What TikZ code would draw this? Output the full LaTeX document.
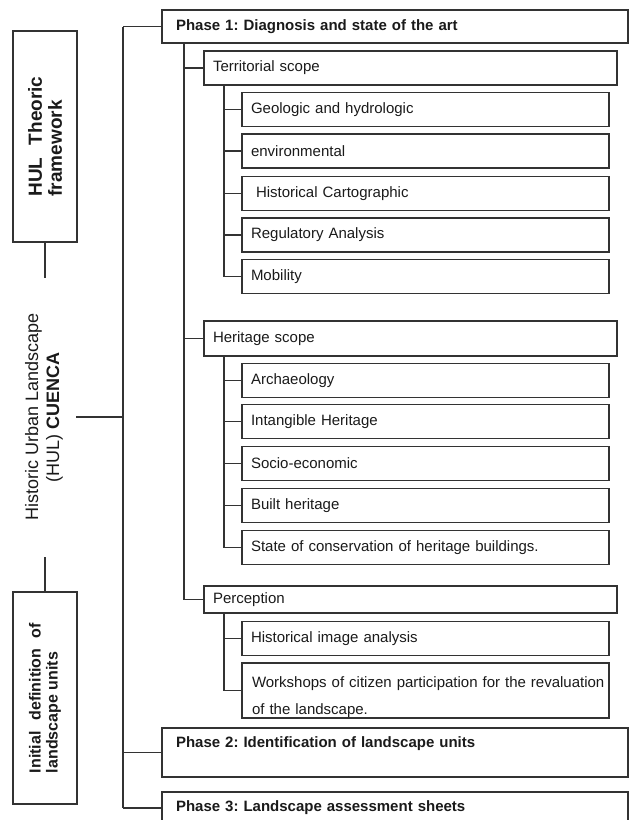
\documentclass[tikz,border=0pt]{standalone}
\usepackage{fontspec}
\setmainfont{Liberation Sans}
\definecolor{ln}{HTML}{333333}
\definecolor{tx}{HTML}{1A1A1A}
\tolerance=9999
\hbadness=10000
\frenchspacing
\begin{document}
\begin{tikzpicture}[x=1pt,y=-1pt,
  box/.style={draw=ln, line width=1.2pt, rectangle, align=left, text=tx,
    font=\fontsize{15}{18}\selectfont, inner ysep=0pt},
  leaf/.style={box, inner xsep=9pt, text width=349pt, minimum height=34pt},
  mid/.style={box, inner xsep=9pt, text width=395pt},
  phase/.style={box, inner xsep=14pt, text width=438pt,
    font=\bfseries\fontsize{15}{18}\selectfont},
  side/.style={draw=ln, line width=1.2pt, rectangle, rotate=90, text=tx,
    minimum height=64pt, align=justify},
  conn/.style={draw=ln, line width=1.1pt}]
\useasboundingbox (0,0) rectangle (630,820);

% left column
\node[side, minimum width=211pt, text width=120pt,
  font=\bfseries\fontsize{19}{20}\selectfont] (hul) at (45,136.5) {HUL Theoric framework};
\node[rotate=90, align=center, text=tx, font=\fontsize{18}{21}\selectfont]
  (hist) at (44,417) {Historic Urban Landscape\\(HUL) \textbf{CUENCA}};
\node[side, minimum width=212pt, text width=150pt,
  font=\bfseries\fontsize{16}{17}\selectfont] (ini) at (45,698) {Initial definition of landscape units\rule{8pt}{0pt}};
\coordinate (hulend) at (45,278);
\coordinate (iniend) at (45,557);
\coordinate (hx) at (76,417);

% boxes
\node[phase, minimum height=33pt] (p1) at (395,26.5) {Phase 1: Diagnosis and state of the art};
\node[mid, minimum height=34pt] (terr) at (410.5,68) {Territorial scope};
\node[leaf] (geo) at (425.5,109.5) {Geologic and hydrologic};
\node[leaf] (env) at (425.5,151) {environmental};
\node[leaf] (hca) at (425.5,193.5) {\hspace*{5pt}Historical Cartographic};
\node[leaf] (reg) at (425.5,235) {Regulatory Analysis};
\node[leaf] (mob) at (425.5,276.5) {Mobility};
\node[mid, minimum height=35pt] (her) at (410.5,338.5) {Heritage scope};
\node[leaf] (arc) at (425.5,380.5) {Archaeology};
\node[leaf] (int) at (425.5,421.5) {Intangible Heritage};
\node[leaf] (soc) at (425.5,463.5) {Socio-economic};
\node[leaf] (blt) at (425.5,505.5) {Built heritage};
\node[leaf] (sta) at (425.5,547.5) {State of conservation of heritage buildings.};
\node[mid, minimum height=27pt] (per) at (410.5,599.5) {Perception};
\node[leaf] (him) at (425.5,638.5) {Historical image analysis};
\node[leaf, minimum height=55pt, inner xsep=10pt, text width=347pt,
  font=\fontsize{15}{27}\selectfont] (wrk) at (425.5,690.5)
  {\rule{0pt}{25pt}\mbox{Workshops of citizen participation for the revaluation}\\of the landscape.};
\node[phase, minimum height=49pt] (p2) at (395,752.5) {Phase 2: Identification of landscape units\\[2pt]\mbox{}};
\node[phase, minimum height=32pt] (p3) at (395,808) {Phase 3: Landscape assessment sheets};

% guide coordinates
\coordinate (trk) at (123,0);
\coordinate (sub) at (184,0);
\coordinate (t1) at (224,0);

% connectors
\draw[conn] (hul.west) -- (hulend);
\draw[conn] (ini.east) -- (iniend);
\draw[conn] (hx) -- (hx -| trk);
\draw[conn] (p1.west -| trk) -- (p3.west -| trk);
\draw[conn] (p1.west -| trk) -- (p1.west);
\draw[conn] (p2.west -| trk) -- (p2.west);
\draw[conn] (p3.west -| trk) -- (p3.west);

\draw[conn] (sub |- p1.south) -- (sub |- per.west) -- (per.west);
\draw[conn] (sub |- terr.west) -- (terr.west);
\draw[conn] (sub |- her.west) -- (her.west);

\draw[conn] (t1 |- terr.south) -- (t1 |- mob.west) -- (mob.west);
\draw[conn] (t1 |- geo.west) -- (geo.west);
\draw[conn] (t1 |- env.west) -- (env.west);
\draw[conn] (t1 |- hca.west) -- (hca.west);
\draw[conn] (t1 |- reg.west) -- (reg.west);

\draw[conn] (t1 |- her.south) -- (t1 |- sta.west) -- (sta.west);
\draw[conn] (t1 |- arc.west) -- (arc.west);
\draw[conn] (t1 |- int.west) -- (int.west);
\draw[conn] (t1 |- soc.west) -- (soc.west);
\draw[conn] (t1 |- blt.west) -- (blt.west);

\draw[conn] (t1 |- per.south) -- (t1 |- wrk.west) -- (wrk.west);
\draw[conn] (t1 |- him.west) -- (him.west);
\end{tikzpicture}
\end{document}
